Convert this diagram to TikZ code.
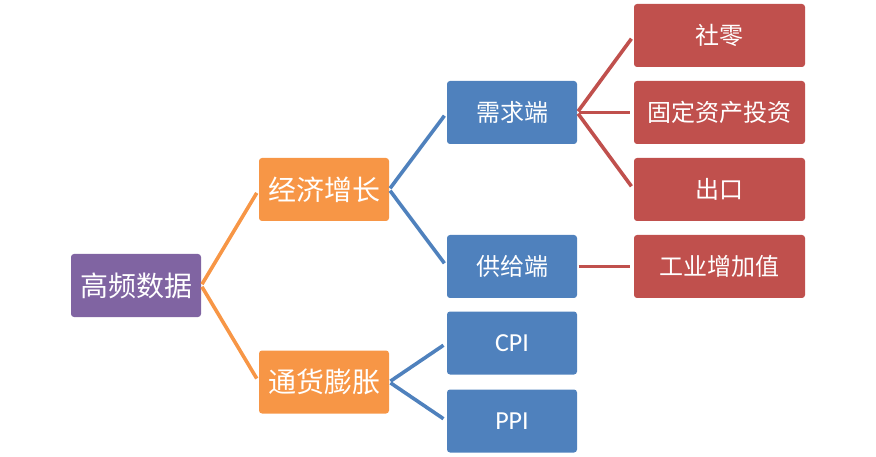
\documentclass[tikz,border=0pt]{standalone}
\usepackage{fontspec}
\setmainfont{Carlito}
\newfontfamily\cjk{Noto Sans CJK SC}
\definecolor{zpurple}{HTML}{8064A2}
\definecolor{zorange}{HTML}{F79646}
\definecolor{zblue}{HTML}{4F81BD}
\definecolor{zred}{HTML}{C0504D}
\tikzset{
  box/.style={rectangle, rounded corners=3pt, text=white, minimum width=130pt,
    minimum height=63pt, inner sep=0pt, font=\cjk\fontsize{24}{28}\selectfont},
  bigbox/.style={box, font=\cjk\fontsize{28}{32}\selectfont},
  link/.style={line width=3.6pt, shorten <=1.5pt, shorten >=4pt}
}
\begin{document}
\begin{tikzpicture}[x=1pt, y=-1pt]
    \useasboundingbox (0,0) rectangle (876,457);
    \node (q0) at (136,285.5) [bigbox, fill=zpurple] {高频数据};
    \node (q1) at (324,189.5) [bigbox, fill=zorange] {经济增长};
    \node (q2) at (324,382) [bigbox, fill=zorange] {通货膨胀};
    \node (q3) at (512,112.5) [box, fill=zblue] {需求端};
    \node (q4) at (512,266.5) [box, fill=zblue] {供给端};
    \node (q5) at (512,343) [box, fill=zblue, font=\fontsize{26}{30}\selectfont] {CPI};
    \node (q6) at (512,421) [box, fill=zblue, font=\fontsize{26}{30}\selectfont] {PPI};
    \node (q7) at (719.5,35.5) [box, fill=zred, minimum width=171pt] {社零};
    \node (q8) at (719.5,112.5) [box, fill=zred, minimum width=171pt] {固定资产投资};
    \node (q9) at (719.5,189.5) [box, fill=zred, minimum width=171pt] {出口};
    \node (q10) at (719.5,266.5) [box, fill=zred, minimum width=171pt] {工业增加值};
    \draw[link, zorange] (q0.east) -- (q1.west);
    \draw[link, zorange] (q0.east) -- (q2.west);
    \draw[link, zblue] (q1.east) -- (q3.west);
    \draw[link, zblue] (q1.east) -- (q4.west);
    \draw[link, zblue] (q2.east) -- (q5.west);
    \draw[link, zblue] (q2.east) -- (q6.west);
    \draw[link, zred] (q3.east) -- (q7.west);
    \draw[link, zred] (q3.east) -- (q8.west);
    \draw[link, zred] (q3.east) -- (q9.west);
    \draw[link, zred] (q4.east) -- (q10.west);
  \end{tikzpicture}
\end{document}
